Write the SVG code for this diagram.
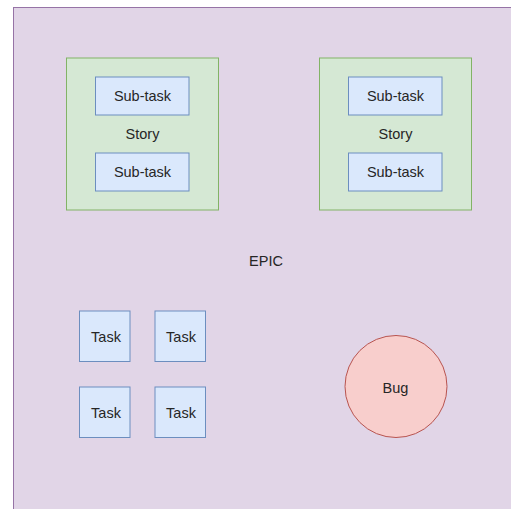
<svg xmlns="http://www.w3.org/2000/svg" width="511" height="509" viewBox="0 0 511 509">
  <style>
    text { font-family: "Liberation Sans", Arial, sans-serif; font-size: 14.5px; fill: #262626; text-anchor: middle; }
    .epic { fill: #e1d5e7; stroke: #9673a6; stroke-width: 1; }
    .story { fill: #d5e8d4; stroke: #82b366; stroke-width: 1; }
    .task { fill: #dae8fc; stroke: #6c8ebf; stroke-width: 1; }
    .bug { fill: #f8cecc; stroke: #b85450; stroke-width: 1; }
  </style>
  <rect width="511" height="509" fill="#ffffff"/>

  <!-- Epic container (extends past the right and bottom edges) -->
  <g id="epic">
    <rect class="epic" x="13.5" y="7.5" width="510" height="510"/>
    <text x="266" y="266">EPIC</text>
  </g>

  <!-- Stories with their sub-tasks -->
  <g id="story-1">
    <rect class="story" x="66.5" y="58" width="152" height="152"/>
    <text x="142.5" y="139">Story</text>
  </g>
  <g id="subtask-1a">
    <rect class="task" x="95.5" y="77" width="93.5" height="38"/>
    <text x="142.5" y="101">Sub-task</text>
  </g>
  <g id="subtask-1b">
    <rect class="task" x="95.5" y="153" width="93.5" height="38"/>
    <text x="142.5" y="177">Sub-task</text>
  </g>

  <g id="story-2">
    <rect class="story" x="319.5" y="58" width="152" height="152"/>
    <text x="395.5" y="139">Story</text>
  </g>
  <g id="subtask-2a">
    <rect class="task" x="348.5" y="77" width="93.5" height="38"/>
    <text x="395.5" y="101">Sub-task</text>
  </g>
  <g id="subtask-2b">
    <rect class="task" x="348.5" y="153" width="93.5" height="38"/>
    <text x="395.5" y="177">Sub-task</text>
  </g>

  <!-- Tasks -->
  <g id="task-1">
    <rect class="task" x="79.5" y="311" width="50.5" height="50.5"/>
    <text x="106" y="342">Task</text>
  </g>
  <g id="task-2">
    <rect class="task" x="155" y="311" width="50.5" height="50.5"/>
    <text x="181" y="342">Task</text>
  </g>
  <g id="task-3">
    <rect class="task" x="79.5" y="387" width="50.5" height="50.5"/>
    <text x="106" y="418">Task</text>
  </g>
  <g id="task-4">
    <rect class="task" x="155" y="387" width="50.5" height="50.5"/>
    <text x="181" y="418">Task</text>
  </g>

  <!-- Bug -->
  <g id="bug">
    <circle class="bug" cx="396" cy="386.5" r="51"/>
    <text x="395.5" y="393">Bug</text>
  </g>

  <g id="connectors"/>
</svg>
